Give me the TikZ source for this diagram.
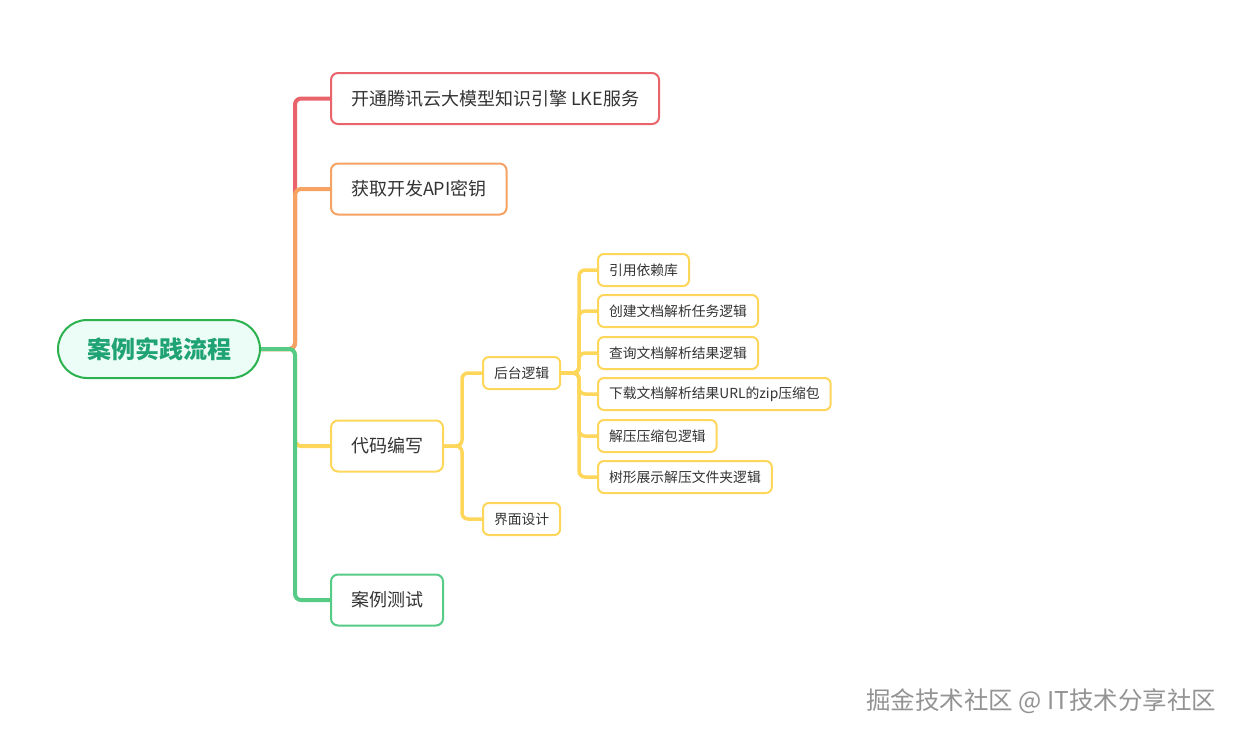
\documentclass[tikz,border=0pt]{standalone}
\usepackage{fontspec}
\setmainfont{Noto Sans CJK SC}
\usepackage{xcolor}
\usetikzlibrary{positioning}

\definecolor{mmred}{HTML}{E9636B}
\definecolor{mmorange}{HTML}{F5A262}
\definecolor{mmyellow}{HTML}{FDD65A}
\definecolor{mmgreen}{HTML}{55CB86}
\definecolor{rootline}{HTML}{2BB24F}
\definecolor{rootfill}{HTML}{ECFCF6}
\definecolor{roottext}{HTML}{1FA374}
\definecolor{textgray}{HTML}{333333}

\begin{document}
\begin{tikzpicture}[
    x=1pt, y=-1pt,
    root/.style={draw=rootline, line width=2pt, fill=rootfill, rounded corners=29pt, minimum width=202pt, minimum height=58pt, font=\fontsize{24}{28}\selectfont\bfseries, text=roottext},
    topic/.style={draw=#1, line width=2pt, rounded corners=7pt, fill=white, minimum height=51pt, inner xsep=20pt, anchor=west, font=\fontsize{18}{21}\selectfont, text=textgray},
    sub/.style={draw=mmyellow, line width=2pt, rounded corners=6pt, fill=white, minimum height=32pt, inner xsep=11pt, anchor=west, font=\fontsize{13.8}{16}\selectfont, text=textgray},
    branch/.style={draw=#1, line width=4pt, rounded corners=6pt},
    twig/.style={draw=mmyellow, line width=3.5pt, rounded corners=6pt},
]
\useasboundingbox (0,0) rectangle (1241,737);

% --- root and first level ---
\node[root] (root) at (159,349) {案例实践流程};
\node[topic=mmred] (b1) at (330,98.5) {开通腾讯云大模型知识引擎 LKE服务};
\node[topic=mmorange] (b2) at (330,189) {获取开发API密钥};
\node[topic=mmyellow] (b3) at (330,446) {代码编写};
\node[topic=mmgreen] (b4) at (330,600) {案例测试};

\coordinate (k1) at (295,349);
\draw[branch=mmred] (root.east) -- (k1) |- (b1.west);
\draw[branch=mmorange] (root.east) -- (k1) |- (b2.west);
\draw[branch=mmyellow] (root.east) -- (k1) |- (b3.west);
\draw[branch=mmgreen] (root.east) -- (k1) |- (b4.west);

% --- second level ---
\node[sub] (c1) at (482,373) {后台逻辑};
\node[sub] (c2) at (482,519) {界面设计};

\coordinate (k2) at (462,446);
\draw[twig] (b3.east) -- (k2) |- (c1.west);
\draw[twig] (b3.east) -- (k2) |- (c2.west);

% --- third level ---
\node[sub] (d1) at (597,270) {引用依赖库};
\node[sub] (d2) at (597,311) {创建文档解析任务逻辑};
\node[sub] (d3) at (597,353) {查询文档解析结果逻辑};
\node[sub] (d4) at (597,394) {下载文档解析结果URL的zip压缩包};
\node[sub] (d5) at (597,436) {解压压缩包逻辑};
\node[sub] (d6) at (597,477) {树形展示解压文件夹逻辑};

\coordinate (k3) at (579,373);
\foreach \i in {1,...,6}
    \draw[twig] (c1.east) -- (k3) |- (d\i.west);

% --- watermark ---
\node[anchor=east, text=gray!85, font=\fontsize{24.5}{28}\selectfont] (mark) at (1220,701) {掘金技术社区 @ IT技术分享社区};

\end{tikzpicture}
\end{document}
